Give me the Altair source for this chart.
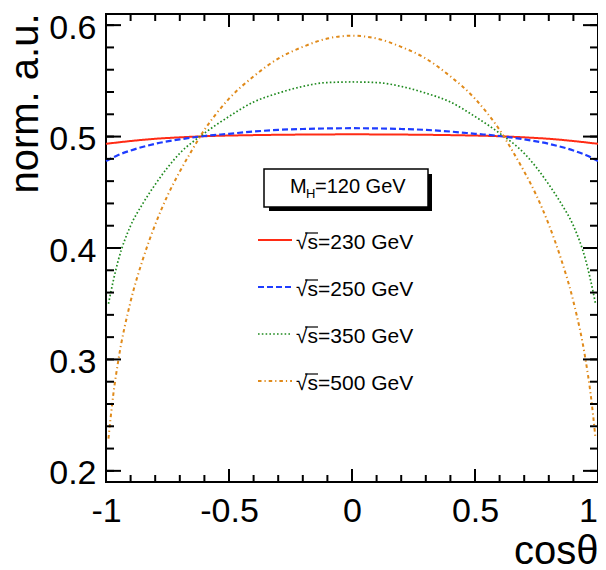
import altair as alt
import pandas as pd

# ---------------- data ----------------
cos_230 = [-1.0, -0.9, -0.8, -0.7, -0.6, -0.4, -0.2, 0.0, 0.2, 0.4, 0.6, 0.7, 0.8, 0.9, 1.0]
val_230 = [0.4935, 0.4960, 0.4980, 0.4993, 0.5003, 0.5013, 0.5018, 0.5020,
           0.5018, 0.5013, 0.5003, 0.4993, 0.4980, 0.4960, 0.4935]

cos_250 = [-1.0, -0.95, -0.9, -0.8, -0.7, -0.6, -0.5, -0.4, -0.3, -0.2, -0.1, 0.0,
           0.1, 0.2, 0.3, 0.4, 0.5, 0.6, 0.7, 0.8, 0.9, 0.95, 1.0]
val_250 = [0.4780, 0.4835, 0.4875, 0.4935, 0.4975, 0.5005, 0.5025, 0.5045, 0.5060, 0.5068, 0.5073, 0.5075,
           0.5073, 0.5068, 0.5060, 0.5045, 0.5025, 0.5005, 0.4975, 0.4935, 0.4875, 0.4835, 0.4780]

cos_350 = [-0.99, -0.97, -0.95, -0.9, -0.85, -0.8, -0.7, -0.6, -0.5, -0.4, -0.3, -0.2, -0.1, 0.0,
           0.1, 0.2, 0.3, 0.4, 0.5, 0.6, 0.7, 0.8, 0.85, 0.9, 0.95, 0.97, 0.99]
val_350 = [0.350, 0.371, 0.389, 0.420, 0.440, 0.457, 0.485, 0.503, 0.518, 0.531, 0.539, 0.545, 0.5485, 0.549,
           0.5485, 0.545, 0.539, 0.531, 0.518, 0.503, 0.485, 0.457, 0.440, 0.420, 0.389, 0.371, 0.350]

cos_500 = [-0.99, -0.98, -0.97, -0.95, -0.9, -0.85, -0.8, -0.75, -0.7, -0.65, -0.6, -0.55, -0.5,
           -0.4, -0.3, -0.2, -0.1, 0.0, 0.1, 0.2, 0.3, 0.4,
           0.5, 0.55, 0.6, 0.65, 0.7, 0.75, 0.8, 0.85, 0.9, 0.95, 0.97, 0.98, 0.99]
val_500 = [0.229, 0.250, 0.269, 0.299, 0.352, 0.390, 0.421, 0.447, 0.4686, 0.488, 0.506, 0.521, 0.534,
           0.554, 0.570, 0.5805, 0.588, 0.5905, 0.588, 0.5805, 0.570, 0.554,
           0.534, 0.521, 0.506, 0.488, 0.4686, 0.447, 0.421, 0.390, 0.352, 0.299, 0.269, 0.250, 0.229]

series_labels = ["√s=230 GeV", "√s=250 GeV", "√s=350 GeV", "√s=500 GeV"]
series_colors = ["#ff2b14", "#1e3cff", "#1f8a1f", "#e08a1a"]
series_dash = [[1, 0], [6, 3], [1.6, 2.2], [3.5, 3, 1.2, 3]]
series_width = [2.0, 2.2, 1.7, 2.0]
series_cos = [cos_230, cos_250, cos_350, cos_500]
series_val = [val_230, val_250, val_350, val_500]

x_major = [-1.0, -0.5, 0.0, 0.5, 1.0]
x_minor = [round(-1 + 0.1 * i, 2) for i in range(21)]
y_major = [0.2, 0.3, 0.4, 0.5, 0.6]
y_minor = [round(0.2 + 0.02 * i, 2) for i in range(21)]

mh_label = ["M", "H", "=120 GeV"]

# ---------------- layout ----------------
W, H = 492, 468
FONT = "Liberation Sans"
xs = alt.Scale(domain=[-1, 1], nice=False, zero=False)
ys = alt.Scale(domain=[0.19, 0.61], nice=False, zero=False)

x_axis = alt.Axis(values=x_major, labelExpr="toString(datum.value)", ticks=False, domain=False, grid=False,
                  labelFontSize=34, labelFont=FONT, labelColor="black", labelPadding=12,
                  labelFlush=False, labelOverlap=False,
                  labelOffset={"condition": {"test": "datum.value == 1", "value": -10}, "value": 0},
                  title="cosθ", titleFont=FONT, titleFontSize=40, titleFontWeight="normal",
                  titleColor="black", titleAlign="right", titleAnchor="end", titleBaseline="alphabetic",
                  titleX=W, titleY=81)
y_axis = alt.Axis(values=y_major, format=".1f", ticks=False, domain=False, grid=False,
                  labelFontSize=34, labelFont=FONT, labelColor="black", labelPadding=10,
                  labelFlush=False, labelOverlap=False, labelOffset=3,
                  title="norm. a.u.", titleFont=FONT, titleFontSize=40, titleFontWeight="normal",
                  titleColor="black", titleAngle=270, titleAlign="right", titleAnchor="end",
                  titleBaseline="alphabetic", titleX=-69, titleY=-1)

X = lambda f: alt.X(f, scale=xs, axis=x_axis, title="cosθ")
Y = lambda f: alt.Y(f, scale=ys, axis=y_axis, title="norm. a.u.")

layers = []

# curves
for i in range(4):
    df = pd.DataFrame({"cos": series_cos[i], "val": series_val[i]})
    layers.append(
        alt.Chart(df).mark_line(color=series_colors[i], strokeDash=series_dash[i],
                                strokeWidth=series_width[i], interpolate="monotone", strokeCap="butt")
        .encode(x=X("cos:Q"), y=Y("val:Q"))
    )

# inward ticks on all four sides
def yticks(vals, x0, x1):
    return alt.Chart(pd.DataFrame({"val": vals})).mark_rule(color="black", strokeWidth=2).encode(
        y=Y("val:Q"), x=alt.value(x0), x2=alt.value(x1))

def xticks(vals, y0, y1):
    return alt.Chart(pd.DataFrame({"cos": vals})).mark_rule(color="black", strokeWidth=2).encode(
        x=X("cos:Q"), y=alt.value(y0), y2=alt.value(y1))

layers += [yticks(y_minor, 0, 8), yticks(y_major, 0, 15),
           yticks(y_minor, W, W - 8), yticks(y_major, W, W - 15),
           xticks(x_minor, H, H - 7), xticks(x_major, H, H - 13),
           xticks(x_minor, 0, 7), xticks(x_major, 0, 13)]

one = pd.DataFrame({"d": [0]})

# M_H box with shadow
layers.append(alt.Chart(one).mark_rect(color="black").encode(
    x=alt.value(163), x2=alt.value(326), y=alt.value(160), y2=alt.value(197)))
layers.append(alt.Chart(one).mark_rect(fill="white", stroke="black", strokeWidth=1.5).encode(
    x=alt.value(158), x2=alt.value(322), y=alt.value(155), y2=alt.value(193)))
layers.append(alt.Chart(one).mark_text(font=FONT, fontSize=20, align="left", baseline="alphabetic",
                                       color="black").encode(
    x=alt.value(184), y=alt.value(179), text=alt.value(mh_label[0])))
layers.append(alt.Chart(one).mark_text(font=FONT, fontSize=13, align="left", baseline="alphabetic",
                                       color="black").encode(
    x=alt.value(200), y=alt.value(184), text=alt.value(mh_label[1])))
layers.append(alt.Chart(one).mark_text(font=FONT, fontSize=20, align="left", baseline="alphabetic",
                                       color="black").encode(
    x=alt.value(209), y=alt.value(179), text=alt.value(mh_label[2])))

# legend entries
row_y = [226, 273, 320, 367]
for i in range(4):
    ly = row_y[i]
    layers.append(alt.Chart(one).mark_rule(color=series_colors[i], strokeDash=series_dash[i],
                                           strokeWidth=series_width[i], strokeCap="butt").encode(
        x=alt.value(152), x2=alt.value(186), y=alt.value(ly)))
    layers.append(alt.Chart(one).mark_text(font=FONT, fontSize=21, align="left", baseline="alphabetic",
                                           color="black").encode(
        x=alt.value(190), y=alt.value(ly + 9), text=alt.value(series_labels[i])))
    layers.append(alt.Chart(one).mark_rule(color="black", strokeWidth=1.2).encode(
        x=alt.value(199), x2=alt.value(212), y=alt.value(ly - 7)))

chart = alt.layer(*layers).properties(
    width=W, height=H, autosize="none", background="white",
    padding={"left": 98, "top": 6, "right": 0, "bottom": 88},
).configure_view(stroke="black", strokeWidth=2, fill="white")

chart.save("out.html", embed_options={"renderer": "svg", "actions": False})
